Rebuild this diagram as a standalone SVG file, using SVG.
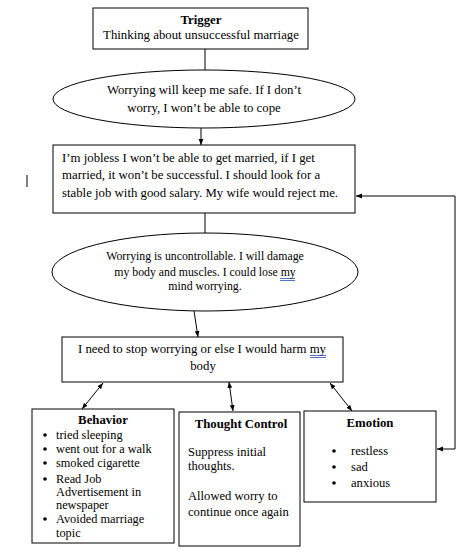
<svg xmlns="http://www.w3.org/2000/svg" width="476" height="554" viewBox="0 0 476 554">
<style>
.box{fill:#fff;stroke:#000;stroke-width:1}
.t{font-family:"Liberation Serif","Times New Roman",serif;font-size:12.8px;fill:#000}
.s{font-size:12.3px}
.m{font-size:12.6px}
.e{font-size:11.8px}
.b{font-weight:bold}
.c{text-anchor:middle}
.ln{stroke:#000;stroke-width:1;fill:none}
.u{stroke:#2b4fb5;stroke-width:0.8}
</style>
<defs>
<marker id="ah" viewBox="0 0 10 10" refX="10" refY="5" markerWidth="6" markerHeight="6" orient="auto-start-reverse" markerUnits="userSpaceOnUse">
<path d="M0,1 L10,5 L0,9 z" fill="#000"/>
</marker>
</defs>
<rect width="476" height="554" fill="#fff"/>
<g id="connectors">
<line class="ln" x1="205" y1="49" x2="205" y2="70"/>
<line class="ln" x1="201" y1="128" x2="201" y2="145" marker-end="url(#ah)"/>
<line class="ln" x1="205" y1="213" x2="205" y2="233"/>
<line class="ln" x1="194" y1="311" x2="198" y2="337" marker-end="url(#ah)"/>
<line class="ln" x1="103" y1="383" x2="82" y2="409" marker-start="url(#ah)" marker-end="url(#ah)"/>
<line class="ln" x1="229" y1="382" x2="233" y2="411" marker-start="url(#ah)" marker-end="url(#ah)"/>
<line class="ln" x1="330" y1="383" x2="352" y2="411" marker-start="url(#ah)" marker-end="url(#ah)"/>
<path class="ln" d="M437 449 H455 V196 H356" stroke="#444" marker-start="url(#ah)" marker-end="url(#ah)"/>
<line class="ln" x1="27" y1="175" x2="27" y2="187"/>
</g>
<g id="trigger">
<rect class="box" x="93" y="8" width="215" height="41"/>
<text class="t b c" x="201" y="24">Trigger</text>
<text class="t c" x="201" y="39">Thinking about unsuccessful marriage</text>
</g>
<g id="belief1">
<ellipse class="box" cx="204" cy="99" rx="151" ry="29"/>
<text class="t c" x="204" y="94">Worrying will keep me safe. If I don’t</text>
<text class="t c" x="204" y="112">worry, I won’t be able to cope</text>
</g>
<g id="thoughts">
<rect class="box" x="53" y="145" width="302" height="68"/>
<text class="t" x="62" y="162">I’m jobless I won’t be able to get married, if I get</text>
<text class="t" x="62" y="179">married, it won’t be successful. I should look for a</text>
<text class="t" x="62" y="197">stable job with good salary. My wife would reject me.</text>
</g>
<g id="belief2">
<ellipse class="box" cx="205" cy="272" rx="153" ry="39"/>
<text class="t e c" x="205" y="260">Worrying is uncontrollable. I will damage</text>
<text class="t e c" x="205" y="276">my body and muscles. I could lose my</text>
<line class="u" x1="280" y1="278.5" x2="295" y2="278.5"/>
<line class="u" x1="280" y1="280.5" x2="295" y2="280.5"/>
<text class="t e c" x="205" y="290">mind worrying.</text>
</g>
<g id="need">
<rect class="box" x="62" y="337" width="281" height="45"/>
<text class="t c" x="202" y="353">I need to stop worrying or else I would harm my</text>
<line class="u" x1="310" y1="355.5" x2="326" y2="355.5"/>
<line class="u" x1="310" y1="357.5" x2="326" y2="357.5"/>
<text class="t c" x="203" y="370">body</text>
</g>
<g id="behavior">
<rect class="box" x="32" y="409" width="142" height="134"/>
<text class="t b c" x="103" y="424">Behavior</text>
<g class="t s">
<circle cx="45" cy="435" r="1.8"/><text x="56" y="439">tried sleeping</text>
<circle cx="45" cy="449" r="1.8"/><text x="56" y="453">went out for a walk</text>
<circle cx="45" cy="463" r="1.8"/><text x="56" y="467">smoked cigarette</text>
<circle cx="45" cy="479" r="1.8"/><text x="56" y="483">Read Job</text>
<text x="56" y="496">Advertisement in</text>
<text x="56" y="509">newspaper</text>
<circle cx="45" cy="519" r="1.8"/><text x="56" y="523">Avoided marriage</text>
<text x="56" y="537">topic</text>
</g>
</g>
<g id="thought-control">
<rect class="box" x="179" y="412" width="121" height="134"/>
<text class="t b c" x="241" y="428">Thought Control</text>
<g class="t m">
<text x="188" y="456">Suppress initial</text>
<text x="188" y="470">thoughts.</text>
<text x="188" y="500">Allowed worry to</text>
<text x="188" y="516">continue once again</text>
</g>
</g>
<g id="emotion">
<rect class="box" x="304" y="411" width="132" height="91"/>
<text class="t b c" x="370" y="427">Emotion</text>
<g class="t m">
<circle cx="334" cy="451" r="1.8"/><text x="351" y="455">restless</text>
<circle cx="334" cy="467" r="1.8"/><text x="351" y="471">sad</text>
<circle cx="334" cy="483" r="1.8"/><text x="351" y="487">anxious</text>
</g>
</g>
</svg>
